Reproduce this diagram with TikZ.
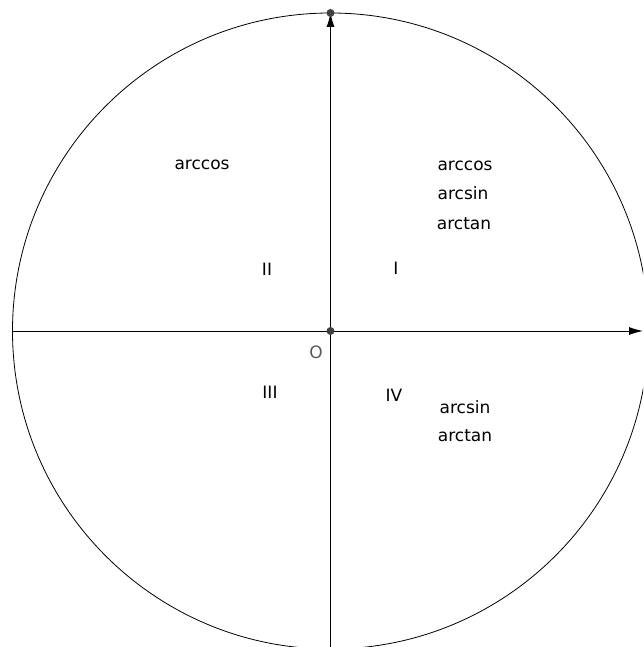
\documentclass[tikz,border=0pt]{standalone}
\usepackage{fontspec}
\setmainfont{DejaVu Sans}
\usetikzlibrary{arrows.meta}
\begin{document}
\begin{tikzpicture}[x=1pt,y=-1pt,
  axis/.style={line width=1pt,-{Latex[length=14pt,width=8pt]}},
  lbl/.style={font=\fontsize{17}{19}\selectfont,inner sep=0pt},
  dotmark/.style={circle,fill=black!75,inner sep=0pt,minimum size=8pt}]
\useasboundingbox (0,0) rectangle (643,647);
\clip (0,0) rectangle (643,647);
\coordinate (C) at (330.5,331);
\draw[line width=0.8pt] (C) circle[radius=318];
\coordinate (xl) at (12.5,331);
\coordinate (xr) at (643,331);
\coordinate (yb) at (330.5,647);
\coordinate (yt) at (330.5,13);
\draw[axis] (xl) -- (xr);
\draw[axis] (yb) -- (yt);
\node[dotmark] (top) at (yt) {};
\node[dotmark] (O) at (C) {};
\node[lbl,text=black!65] (Olbl) at (316,352) {O};
\node[lbl] (a1) at (202,165) {arccos};
\node[lbl] (b1) at (465,166) {arccos};
\node[lbl] (b2) at (463,193) {arcsin};
\node[lbl] (b3) at (464,224) {arctan};
\node[lbl] (q2) at (267,269) {II};
\node[lbl] (q1) at (396,268) {I};
\node[lbl] (q3) at (270,392) {III};
\node[lbl] (q4) at (394,395) {IV};
\node[lbl] (c1) at (465,407) {arcsin};
\node[lbl] (c2) at (465,436) {arctan};
\end{tikzpicture}
\end{document}
